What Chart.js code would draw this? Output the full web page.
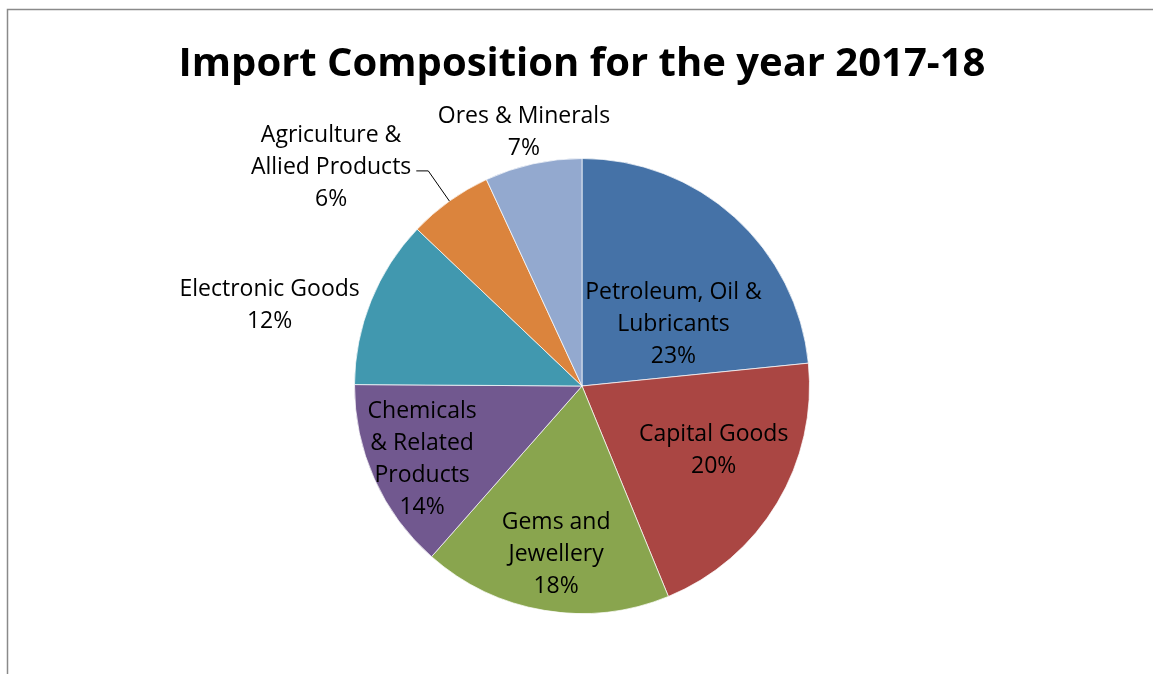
<!DOCTYPE html>
<html>
<head>
<meta charset="utf-8">
<script src="https://cdn.jsdelivr.net/npm/chart.js@4"></script>
<style>
    html, body { margin: 0; padding: 0; background: #fff; }
    #wrap { width: 1153px; height: 674px; position: relative; }
</style>
</head>
<body>
<div id="wrap"><canvas id="importChart" width="1153" height="674"></canvas></div>
<script>
// Data (shares of imports, %)
const chartTitle = 'Import Composition for the year 2017-18';
const categories = [
    ['Petroleum, Oil &', 'Lubricants'],
    ['Capital Goods'],
    ['Gems and', 'Jewellery'],
    ['Chemicals', '& Related', 'Products'],
    ['Electronic Goods'],
    ['Agriculture &', 'Allied Products'],
    ['Ores & Minerals']
];
const shares = [23.4, 20.4, 17.7, 13.6, 12.0, 6.0, 6.9];
const sliceColors = ['#4572A7', '#AA4643', '#89A54E', '#71588F', '#4198AF', '#DB843D', '#93A9CF'];

// Where each label sits: fraction of radius and angle nudge (degrees) from the slice middle
const labelPlace = [
    { r: 0.49, da: 13 },
    { r: 0.64, da: -5.7 },
    { r: 0.74, da: -0.7 },
    { r: 0.77, da: 0 },
    { r: 1.42, da: -7.2 },
    { r: 1.467, da: -13.1, leader: true },
    { r: 1.15, da: -0.4 }
];

const labelFont = '23px "Open Sans", sans-serif';
const lineGap = 32;

// Grey frame along the top and left edge, plus the big title
const framePlugin = {
    id: 'frame',
    beforeDraw: (chart) => {
        const ctx = chart.ctx;
        ctx.save();
        ctx.strokeStyle = '#8a8a8a';
        ctx.lineWidth = 1.5;
        ctx.beginPath();
        ctx.moveTo(7.5, chart.height);
        ctx.lineTo(7.5, 9.5);
        ctx.lineTo(chart.width, 9.5);
        ctx.stroke();

        ctx.fillStyle = '#000';
        ctx.font = 'bold 40px "Open Sans", sans-serif';
        ctx.textAlign = 'center';
        ctx.textBaseline = 'alphabetic';
        const area = chart.chartArea;
        ctx.fillText(chartTitle, (area.left + area.right) / 2, 76);
        ctx.restore();
    }
};

// Slice labels (name + percentage), some outside with a leader line
const sliceLabels = {
    id: 'sliceLabels',
    afterDatasetsDraw: (chart) => {
        const ctx = chart.ctx;
        const meta = chart.getDatasetMeta(0);
        const values = chart.data.datasets[0].data;
        const total = values.reduce((a, b) => a + b, 0);
        ctx.save();
        ctx.font = labelFont;
        ctx.fillStyle = '#000';
        ctx.textAlign = 'center';
        ctx.textBaseline = 'middle';
        meta.data.forEach((arc, i) => {
            const p = arc.getProps(['x', 'y', 'startAngle', 'endAngle', 'outerRadius'], true);
            const mid = (p.startAngle + p.endAngle) / 2;
            const place = labelPlace[i];
            const a = mid + place.da * Math.PI / 180;
            const lx = p.x + Math.cos(a) * p.outerRadius * place.r;
            const ly = p.y + Math.sin(a) * p.outerRadius * place.r + 2;
            const lines = categories[i].concat([Math.round(values[i] / total * 100) + '%']);
            const top = ly - (lines.length - 1) * lineGap / 2;
            let widest = 0;
            lines.forEach((t, k) => {
                ctx.fillText(t, lx, top + k * lineGap);
                widest = Math.max(widest, ctx.measureText(t).width);
            });
            if (place.leader) {
                const ey = top + lineGap + 3;
                const sx = lx + widest / 2 + 5;
                ctx.strokeStyle = '#000';
                ctx.lineWidth = 1;
                ctx.beginPath();
                ctx.moveTo(sx, ey);
                ctx.lineTo(sx + 12, ey);
                ctx.lineTo(p.x + Math.cos(mid) * p.outerRadius, p.y + Math.sin(mid) * p.outerRadius);
                ctx.stroke();
            }
        });
        ctx.restore();
    }
};

const importCtx = document.getElementById('importChart').getContext('2d');
const importChart = new Chart(importCtx, {
    type: 'pie',
    data: {
        labels: categories,
        datasets: [{
            data: shares,
            backgroundColor: sliceColors,
            borderColor: 'rgba(255,255,255,0.7)',
            borderWidth: 1
        }]
    },
    options: {
        responsive: false,
        animation: false,
        layout: {
            padding: { left: 354, right: 343, top: 158, bottom: 60 }
        },
        plugins: {
            legend: { display: false },
            tooltip: { enabled: false },
            title: { display: false }
        }
    },
    plugins: [framePlugin, sliceLabels]
});
</script>
</body>
</html>
